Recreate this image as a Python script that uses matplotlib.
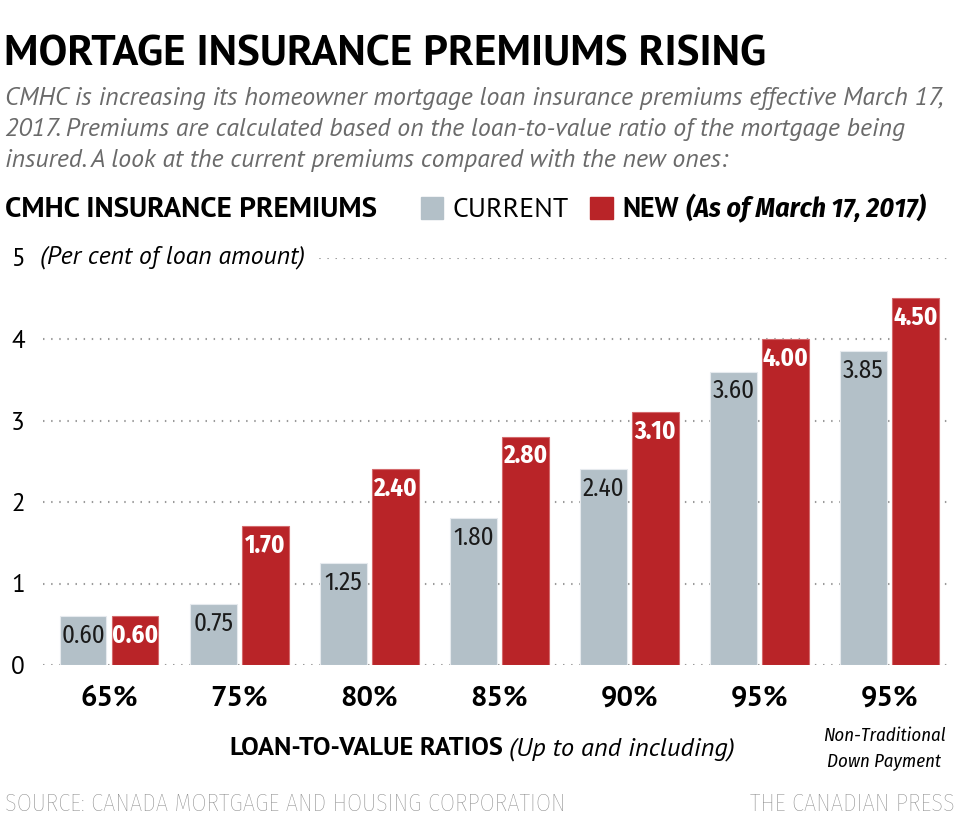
import numpy as np
import matplotlib
matplotlib.use("Agg")
import matplotlib.pyplot as plt

SANS = ["PT Sans", "DejaVu Sans"]
COND = ["Fira Sans Condensed", "DejaVu Sans"]
plt.rcParams["font.family"] = SANS

# data
ratios = ["65%", "75%", "80%", "85%", "90%", "95%", "95%"]
current = [0.60, 0.75, 1.25, 1.80, 2.40, 3.60, 3.85]
new = [0.60, 1.70, 2.40, 2.80, 3.10, 4.00, 4.50]

GRAY = "#b3c0c8"
RED = "#b92428"
W, H = 960, 831


def px(x, y):
    return x / W, 1 - y / H


fig = plt.figure(figsize=(W / 100, H / 100), dpi=100)
renderer = fig.canvas.get_renderer()


def put(x, y, s, **kw):
    # place text at pixel position, return its right edge in pixels
    kw.setdefault("va", "baseline")
    kw.setdefault("ha", "left")
    t = fig.text(*px(x, y), s, **kw)
    bb = t.get_window_extent(renderer)
    return bb.x1


ax = fig.add_axes([43 / W, 1 - 665 / H, (948 - 43) / W, (665 - 257.5) / H])

x = np.arange(len(ratios))
bw = 0.36
off = 0.2
ax.bar(x - off, current, bw, color=GRAY, edgecolor="#e6eaee", linewidth=0.8, zorder=2)
ax.bar(x + off, new, bw, color=RED, edgecolor="#d46a6d", linewidth=0.8, zorder=2)

for xi, c, n in zip(x, current, new):
    ax.annotate(f"{c:.2f}", (xi - off, c), xytext=(0, -14), textcoords="offset points",
                ha="center", va="center", fontsize=18, color="#1a1a1a",
                family=COND, zorder=3)
    ax.annotate(f"{n:.2f}", (xi + off, n), xytext=(0, -14), textcoords="offset points",
                ha="center", va="center", fontsize=18, color="white",
                fontweight="bold", family=COND, zorder=3)

ax.set_xlim(-0.508, 6.45)
ax.set_ylim(0, 5)
ax.set_yticks(range(6))
for yv in range(6):
    ax.axhline(yv, color="#9a9a9a", linewidth=1.5, linestyle=(0, (0.7, 3.2)), zorder=1)
ax.set_xticks(x)
ax.set_xticklabels(ratios, fontsize=21, fontweight="bold")
for lab in ax.get_xticklabels():
    lab.set_va("baseline")
ax.tick_params(axis="x", length=0, pad=29)
ax.tick_params(axis="y", length=0, pad=13, labelsize=18)
for s in ax.spines.values():
    s.set_visible(False)
ax.set_facecolor("none")

# header
put(4, 65, "MORTAGE INSURANCE PREMIUMS RISING", fontsize=31, fontweight="bold")
sub_lines = [
    "CMHC is increasing its homeowner mortgage loan insurance premiums effective March 17,",
    "2017. Premiums are calculated based on the loan-to-value ratio of the mortgage being",
    "insured. A look at the current premiums compared with the new ones:",
]
for i, line in enumerate(sub_lines):
    put(5, 105 + 31 * i, line, fontsize=18.5, style="italic", color="#6a6a6a")

# legend row
put(5, 217, "CMHC INSURANCE PREMIUMS", fontsize=21, fontweight="bold")
fig.patches.append(plt.Rectangle(px(421, 219), 22 / W, 22 / H, color=GRAY,
                                 transform=fig.transFigure, figure=fig))
put(452, 217, "CURRENT", fontsize=20)
fig.patches.append(plt.Rectangle(px(590, 219), 23 / W, 22 / H, color=RED,
                                 transform=fig.transFigure, figure=fig))
r = put(622, 217, "NEW", fontsize=20, fontweight="bold")
put(r + 8, 217, "(As of March 17, 2017)", fontsize=20, fontweight="bold",
    style="italic", family=COND)

fig.text(*px(40, 257), "(Per cent of loan amount)", fontsize=18.5, style="italic",
         va="center", ha="left", zorder=5,
         bbox=dict(facecolor="white", edgecolor="none", pad=7))

# x axis title
r = put(230, 755, "LOAN-TO-VALUE RATIOS", fontsize=19, fontweight="bold")
put(r + 6, 755, "(Up to and including)", fontsize=19, style="italic")
fig.text(*px(884, 741), "Non-Traditional", fontsize=13.5, style="italic",
         family=COND, ha="center", va="baseline")
fig.text(*px(884, 766), "Down Payment", fontsize=13.5, style="italic",
         family=COND, ha="center", va="baseline")

# footer
put(5, 811, "SOURCE: CANADA MORTGAGE AND HOUSING CORPORATION", fontsize=17.5,
    color="#888888", family=COND, fontweight="light")
put(955, 811, "THE CANADIAN PRESS", fontsize=17.5, color="#888888", family=COND,
    fontweight="light", ha="right")

fig.savefig("out.png", dpi=100, facecolor="white")
